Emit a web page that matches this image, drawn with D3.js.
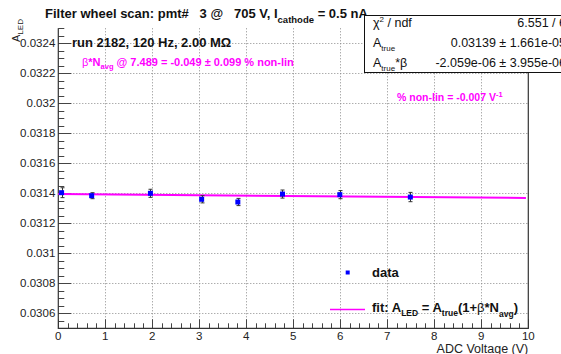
<!DOCTYPE html>
<html>
<head>
<meta charset="utf-8">
<script src="https://cdn.jsdelivr.net/npm/d3@7"></script>
<style>
  body { margin: 0; background: #fff; }
  svg { display: block; font-family: 'Liberation Sans', Arial, sans-serif; }
  text { white-space: pre; }
</style>
</head>
<body>
<div id="graph"></div>
<script>
// measured points (ADC voltage, amplitude, error)
var adcV = [0.07, 0.71, 1.96, 3.05, 3.82, 4.77, 5.99, 7.49]
var aLed = [0.031404, 0.031384, 0.031400, 0.031360, 0.031342, 0.031395, 0.031391, 0.031375]
var aErr = [0.000033, 0.000020, 0.000027, 0.000024, 0.000024, 0.000027, 0.000027, 0.000031]

// fit line as drawn
var fitX = [0, 9.95]
var fitY = [0.031395, 0.031369]

var xTicks = [0, 1, 2, 3, 4, 5, 6, 7, 8, 9, 10]
var yTicks = [0.0306, 0.0308, 0.031, 0.0312, 0.0314, 0.0316, 0.0318, 0.032, 0.0322, 0.0324]

// stats box rows: [text, shift] pieces, shift <0 = superscript, >0 = subscript
var statNames = [
  [['χ', 0], ['2', -5], [' / ndf', 0]],
  [['A', 0], ['true', 4]],
  [['A', 0], ['true', 4], ['*β', 0]],
]
var statVals = ['6.551 / 6', '0.03139 ± 1.661e-05', '-2.059e-06 ± 3.955e-06']

var W = 561, H = 354
var margin = {left: 58.3, right: 32.7, top: 28.3, bottom: 25.7}
var magenta = '#ff00ff'

var svg = d3.select('#graph').append('svg')
  .attr('width', W).attr('height', H)

svg.append('rect').attr('width', W).attr('height', H).attr('fill', '#fff')

var x = d3.scaleLinear().domain([0, 10]).range([margin.left, W - margin.right])
var y = d3.scaleLinear().domain([0.0305, 0.0325]).range([H - margin.bottom, margin.top])

var x0 = x.range()[0], x1 = x.range()[1]
var yb = y.range()[0], yt = y.range()[1]

// write pieces with sub/superscripts into a text element
function rich(t, pieces, small){
  var cur = 0
  pieces.forEach(p => {
    var s = t.append('tspan').attr('dy', p[1] - cur).text(p[0])
    if (p[1] != 0) s.attr('font-size', small)
    if (p[2]) s.attr('font-weight', p[2])
    cur = p[1]
  })
}

// grid
var grid = svg.append('g')
  .attr('stroke', '#8a8a8a').attr('stroke-width', 1).attr('stroke-dasharray', '1,2')
grid.selectAll('line.gx').data(xTicks.slice(1, -1)).join('line')
  .attr('x1', d => Math.round(x(d)) + .5).attr('x2', d => Math.round(x(d)) + .5)
  .attr('y1', yt).attr('y2', yb)
grid.selectAll('line.gy').data(yTicks).join('line')
  .attr('x1', x0).attr('x2', x1)
  .attr('y1', d => Math.round(y(d)) + .5).attr('y2', d => Math.round(y(d)) + .5)

// ticks (inside frame, ROOT style)
var xMinor = d3.range(0, 10.001, 0.2)
var yMinor = d3.range(0.0305, 0.03250001, 0.00005)
var tk = svg.append('g').attr('stroke', '#444').attr('stroke-width', 1)
tk.selectAll('line.xm').data(xMinor).join('line')
  .attr('x1', d => Math.round(x(d)) + .5).attr('x2', d => Math.round(x(d)) + .5)
  .attr('y1', yb).attr('y2', d => yb - (Math.abs(d - Math.round(d)) < 1e-6 ? 9 : 5))
tk.selectAll('line.ym').data(yMinor).join('line')
  .attr('y1', d => Math.round(y(d)) + .5).attr('y2', d => Math.round(y(d)) + .5)
  .attr('x1', x0).attr('x2', d => x0 + (yTicks.some(t => Math.abs(t - d) < 1e-8) ? 13 : 6))

// frame: left, bottom, right
svg.append('path')
  .attr('d', `M${x0},${yt}V${yb}H${x1}V${yt}`)
  .attr('fill', 'none').attr('stroke', '#333').attr('stroke-width', 1.2)

// tick labels
svg.append('g').selectAll('text').data(xTicks).join('text')
  .attr('x', d => x(d)).attr('y', yb + 12)
  .attr('text-anchor', 'middle').attr('font-size', 11.5).attr('fill', '#222')
  .text(d => d)
svg.append('g').selectAll('text').data(yTicks).join('text')
  .attr('x', x0 - 3).attr('y', d => y(d) + 4)
  .attr('text-anchor', 'end').attr('font-size', 11.5).attr('fill', '#222')
  .text(d => String(+d.toPrecision(3)))

// axis titles
svg.append('text')
  .attr('x', x1).attr('y', 352.5)
  .attr('text-anchor', 'end').attr('font-size', 12.5).attr('fill', '#222')
  .text('ADC Voltage (V)')

var yTitle = svg.append('text')
  .attr('transform', 'translate(20,42) rotate(-90)')
  .attr('font-size', 11).attr('fill', '#222')
rich(yTitle, [['A', 0], ['LED', 3]], 8)

// fit line
var line = d3.line().x(d => x(d[0])).y(d => y(d[1]))
svg.append('path')
  .attr('d', line(d3.zip(fitX, fitY)))
  .attr('fill', 'none').attr('stroke', magenta).attr('stroke-width', 2)

// error bars and markers
var pts = d3.zip(adcV, aLed, aErr)
var eb = svg.append('g').attr('stroke', '#333').attr('stroke-width', 1)
eb.selectAll('path').data(pts).join('path')
  .attr('d', d => {
    var px = Math.round(x(d[0])) + .5, lo = y(d[1] - d[2]), hi = y(d[1] + d[2])
    return `M${px},${lo}V${hi}M${px - 2},${lo}H${px + 2}M${px - 2},${hi}H${px + 2}`
  })
svg.append('g').selectAll('rect').data(pts).join('rect')
  .attr('x', d => x(d[0]) - 2.5).attr('y', d => y(d[1]) - 2.5)
  .attr('width', 5).attr('height', 5).attr('fill', '#0000ff')

// title
var title = svg.append('text')
  .attr('x', 45).attr('y', 18)
  .attr('font-size', 13).attr('font-weight', 'bold').attr('fill', '#111')
rich(title, [['Filter wheel scan: pmt#   3 @   705 V, I', 0], ['cathode', 5], [' = 0.5 nA', 0]], 9.5)

// run info
svg.append('text')
  .attr('x', 72).attr('y', 47)
  .attr('font-size', 13).attr('font-weight', 'bold').attr('fill', '#111')
  .text('run 2182, 120 Hz, 2.00 MΩ')

var nl = svg.append('text')
  .attr('x', 82).attr('y', 66)
  .attr('font-size', 11).attr('font-weight', 'bold').attr('fill', magenta)
rich(nl, [['β', 0, 'normal'], ['*N', 0], ['avg', 3], [' @ 7.489 = -0.049 ± 0.099 % non-lin', 0]], 7.5)

var sl = svg.append('text')
  .attr('x', 397).attr('y', 101)
  .attr('font-size', 10.5).attr('font-weight', 'bold').attr('fill', magenta)
rich(sl, [['% non-lin = -0.007 V', 0], ['-1', -4]], 7.5)

// stats box
svg.append('rect')
  .attr('x', 364.5).attr('y', 15.5).attr('width', 220).attr('height', 57)
  .attr('fill', '#fff').attr('stroke', '#111').attr('stroke-width', 1)
statNames.forEach((pieces, i) => {
  var by = 27 + i * 19.8
  var t = svg.append('text').attr('x', 373).attr('y', by)
    .attr('font-size', 12.5).attr('fill', '#111')
  rich(t, pieces, 8)
  svg.append('text').attr('x', 566).attr('y', by)
    .attr('text-anchor', 'end').attr('font-size', 12.5).attr('fill', '#111')
    .text(statVals[i])
})

// legend
svg.append('rect').attr('x', 345.7).attr('y', 270.5).attr('width', 4).attr('height', 4).attr('fill', '#0000ff')
svg.append('text').attr('x', 372).attr('y', 277)
  .attr('font-size', 13).attr('font-weight', 'bold').attr('fill', '#111').text('data')
svg.append('line').attr('x1', 330).attr('x2', 365).attr('y1', 309.5).attr('y2', 309.5)
  .attr('stroke', magenta).attr('stroke-width', 1.5)
var fl = svg.append('text').attr('x', 372).attr('y', 312)
  .attr('font-size', 13).attr('font-weight', 'bold').attr('fill', '#111')
rich(fl, [['fit: A', 0], ['LED', 4], [' = A', 0], ['true', 4], ['(1+', 0], ['β', 0, 'normal'], ['*N', 0], ['avg', 5], [')', 0]], 8.5)
</script>
</body>
</html>
